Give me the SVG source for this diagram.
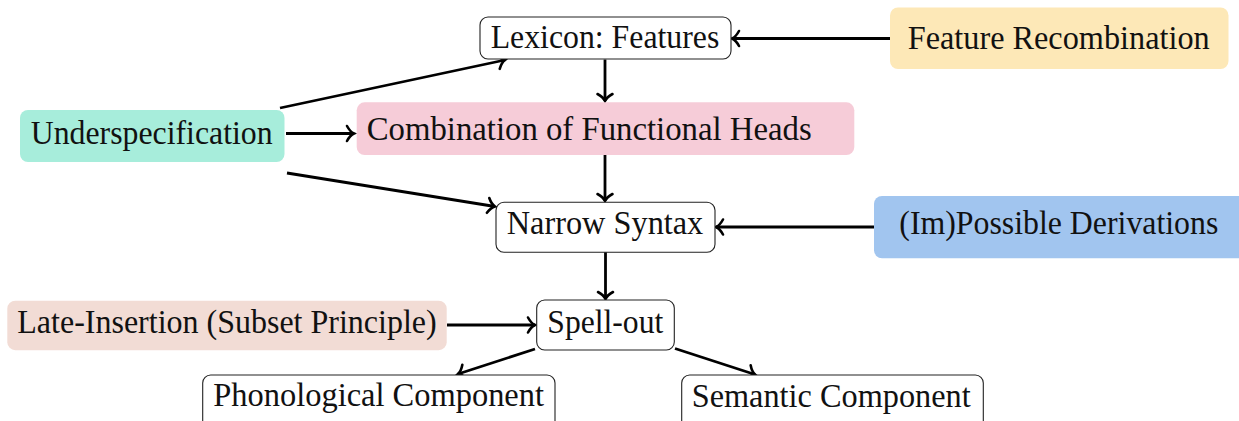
<svg xmlns="http://www.w3.org/2000/svg" width="1239" height="421" viewBox="0 0 1239 421">
<defs>
<marker id="arr" markerUnits="userSpaceOnUse" markerWidth="20" markerHeight="20" viewBox="-10 -10 20 20" refX="0" refY="0" orient="auto">
<path d="M -7,-7.5 C -5,-3.8 -2.2,-1 0,0 C -2.2,1 -5,3.8 -7,7.5" fill="none" stroke="#000" stroke-width="2.6" stroke-linecap="round"/>
</marker>
</defs>
<style>
text{font-family:"Liberation Serif","Times New Roman",serif;font-size:33.5px;fill:#111;}
.w{fill:#fff;stroke:#222;stroke-width:1.1;}
.c{stroke:none;}
.e{fill:none;stroke:#000;stroke-width:2.8;marker-end:url(#arr);}
</style>
<g id="connectors">
<line class="e" x1="890" y1="38.5" x2="732" y2="38.5"/>
<line class="e" x1="605" y1="59.5" x2="605" y2="101"/>
<line class="e" x1="280" y1="108" x2="505" y2="60"/>
<line class="e" x1="286" y1="133.5" x2="354" y2="133.5"/>
<line class="e" x1="287" y1="173" x2="495" y2="206.5"/>
<line class="e" x1="605" y1="155" x2="605" y2="201"/>
<line class="e" x1="874" y1="227" x2="716" y2="227"/>
<line class="e" x1="605.5" y1="252" x2="605.5" y2="299"/>
<line class="e" x1="447" y1="325" x2="535" y2="325"/>
<line class="e" x1="535" y1="349" x2="458" y2="374"/>
<line class="e" x1="675" y1="348.5" x2="755" y2="374.5"/>
</g>
<g id="lexicon">
<rect class="w" x="480" y="17" width="251" height="42" rx="8"/>
<text x="490.7" y="48.3" textLength="228.6" lengthAdjust="spacingAndGlyphs">Lexicon: Features</text>
</g>
<g id="feature-recombination">
<rect class="c" x="890" y="7.5" width="338.5" height="61.5" rx="8" fill="#FDE8B7"/>
<text x="907.7" y="49" textLength="302" lengthAdjust="spacingAndGlyphs">Feature Recombination</text>
</g>
<g id="underspecification">
<rect class="c" x="20" y="110" width="264.5" height="52" rx="8" fill="#A7EDDB"/>
<text x="30.7" y="144" textLength="242" lengthAdjust="spacingAndGlyphs">Underspecification</text>
</g>
<g id="combination">
<rect class="c" x="356.7" y="102.3" width="497.6" height="52.7" rx="8" fill="#F6CCD8"/>
<text x="366.7" y="140" textLength="445" lengthAdjust="spacingAndGlyphs">Combination of Functional Heads</text>
</g>
<g id="narrow-syntax">
<rect class="w" x="496" y="202.3" width="219" height="50" rx="8"/>
<text x="506.7" y="234" textLength="196.6" lengthAdjust="spacingAndGlyphs">Narrow Syntax</text>
</g>
<g id="impossible-derivations">
<rect class="c" x="874" y="196" width="380" height="62.3" rx="8" fill="#A1C5EF"/>
<text x="899.3" y="233.5" textLength="319" lengthAdjust="spacingAndGlyphs">(Im)Possible Derivations</text>
</g>
<g id="late-insertion">
<rect class="c" x="7.3" y="300.7" width="439.4" height="49.5" rx="8" fill="#F2DCD5"/>
<text x="17.3" y="333.3" textLength="419.4" lengthAdjust="spacingAndGlyphs">Late-Insertion (Subset Principle)</text>
</g>
<g id="spell-out">
<rect class="w" x="536.7" y="300" width="137.6" height="50" rx="8"/>
<text x="547.3" y="332.7" textLength="116" lengthAdjust="spacingAndGlyphs">Spell-out</text>
</g>
<g id="phonological">
<rect class="w" x="202.7" y="375" width="352.3" height="55" rx="8"/>
<text x="213.3" y="406" textLength="330.7" lengthAdjust="spacingAndGlyphs">Phonological Component</text>
</g>
<g id="semantic">
<rect class="w" x="681.7" y="375" width="301.6" height="55" rx="8"/>
<text x="691.7" y="406.7" textLength="279" lengthAdjust="spacingAndGlyphs">Semantic Component</text>
</g>
</svg>
